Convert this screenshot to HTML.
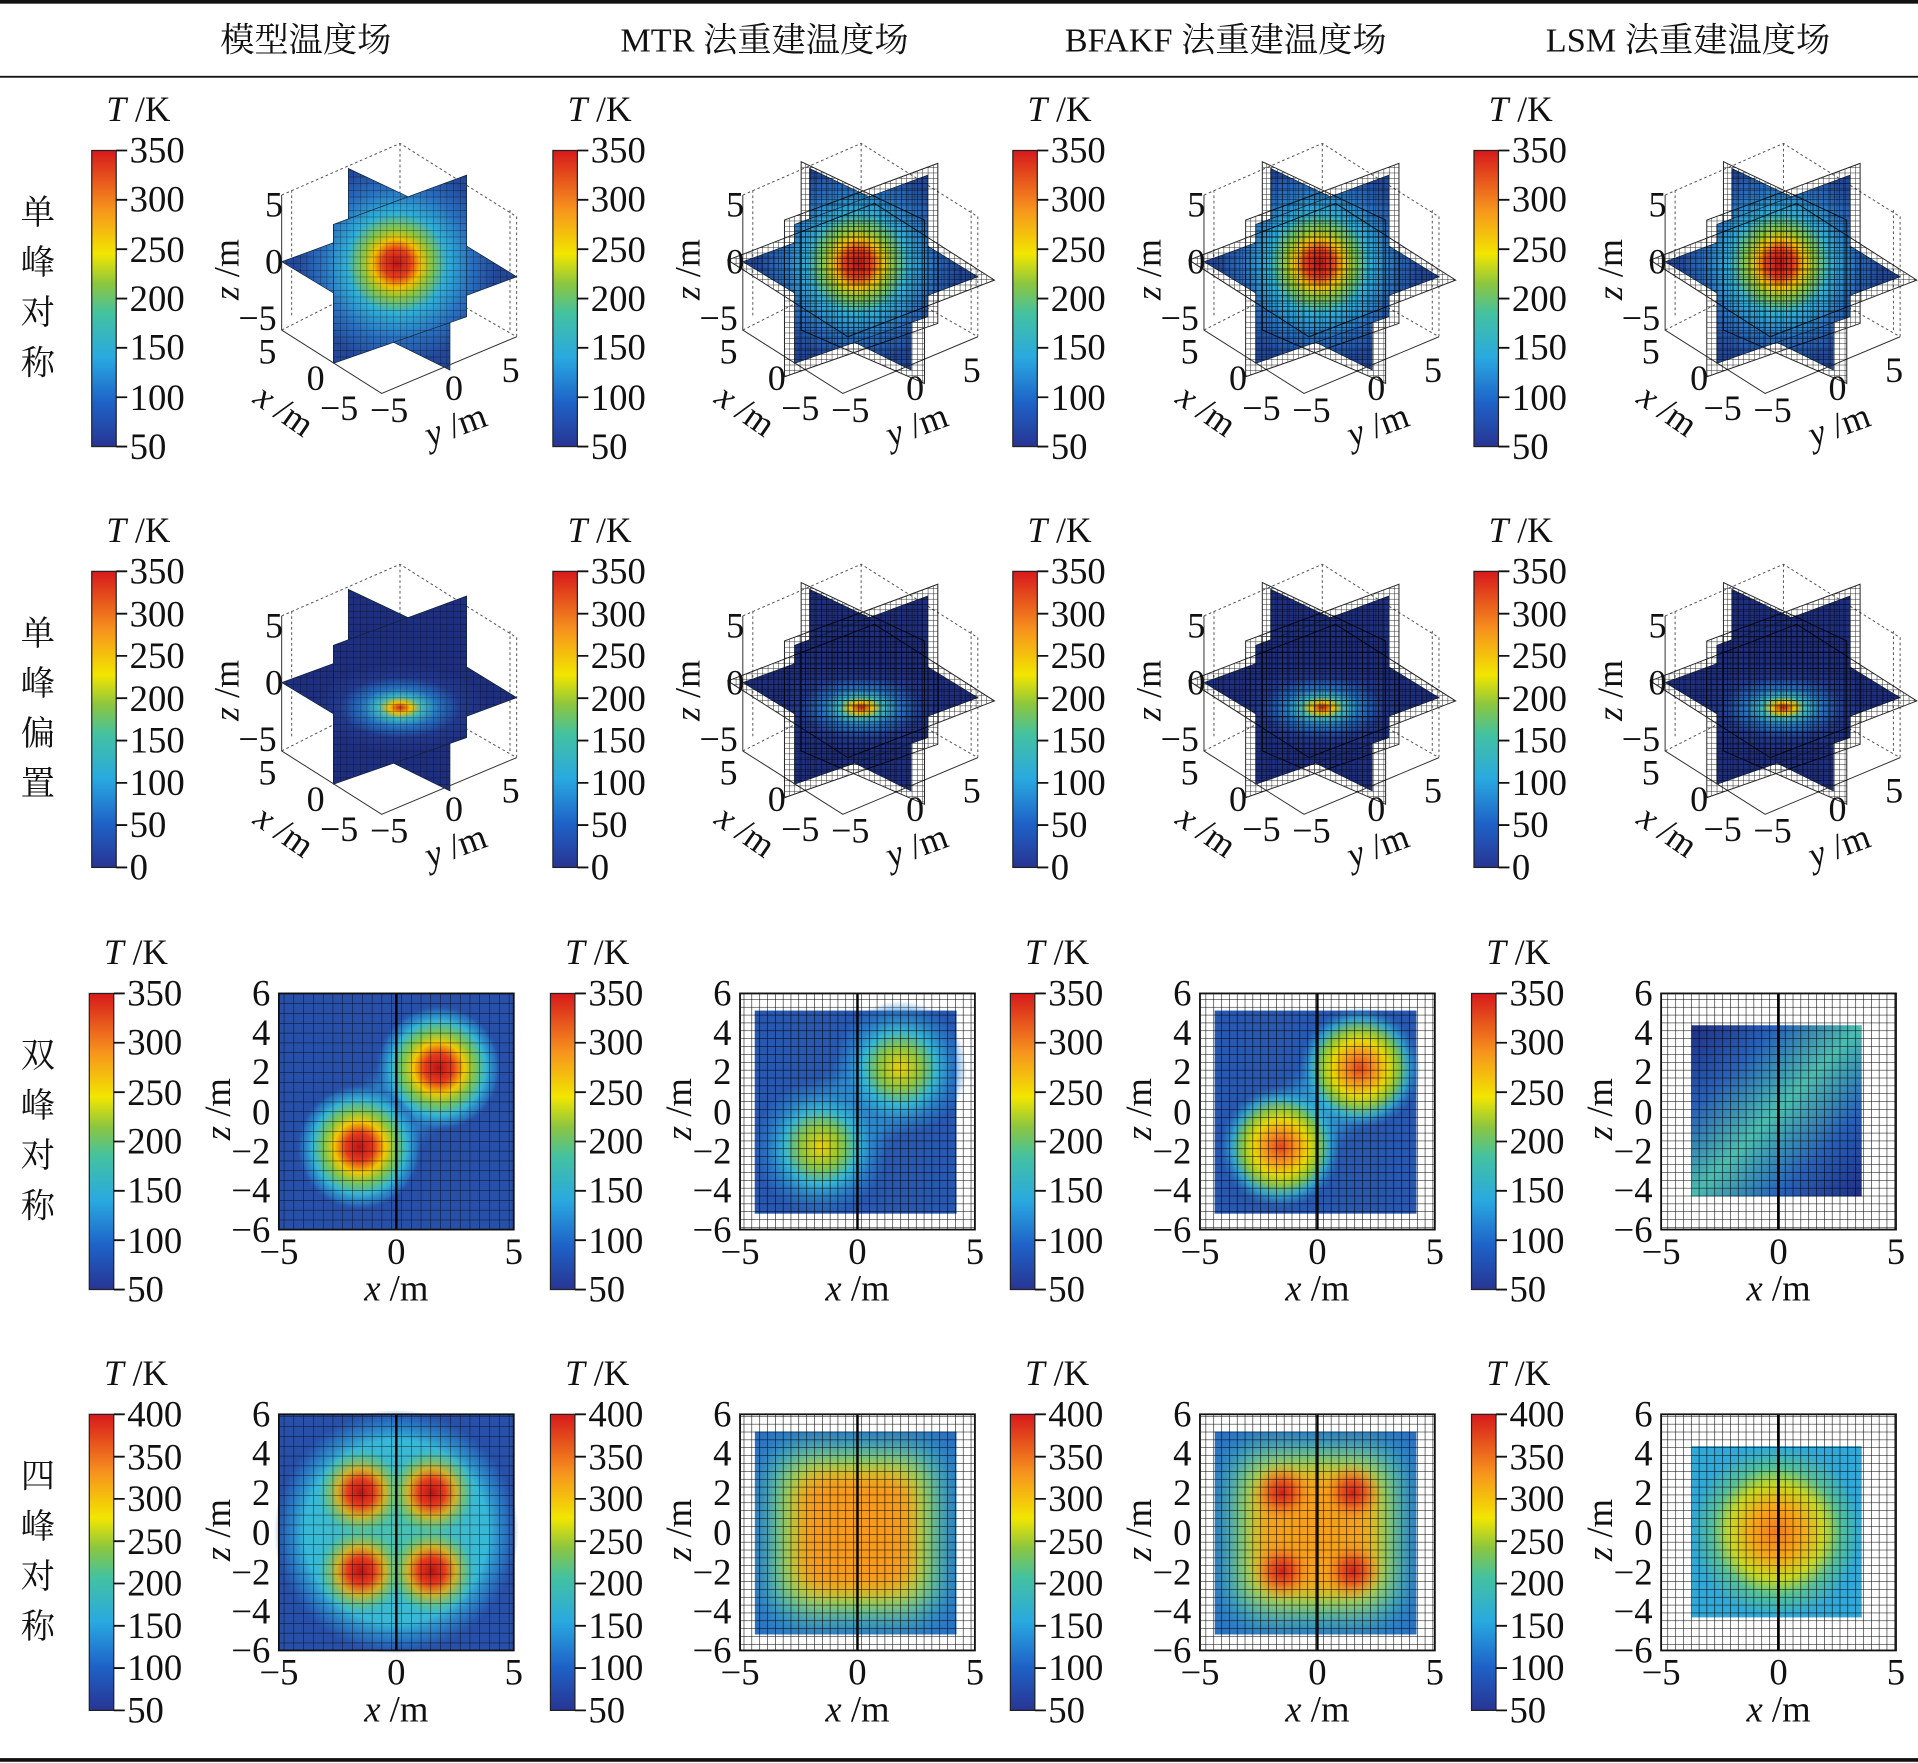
<!DOCTYPE html>
<html><head><meta charset="utf-8"><style>
html,body{margin:0;padding:0;background:#fff}
svg{display:block}
text{font-family:"Liberation Serif","Noto Serif CJK SC",serif;fill:#111}
.t{font-size:29px}
.h{font-size:28px}
.c{font-size:30px}
.z{font-size:108px}
.i{font-style:italic}
</style></head><body>
<svg xmlns="http://www.w3.org/2000/svg" width="1918" height="1763" viewBox="0 0 1568 1441" preserveAspectRatio="none">
<defs>
<filter id="bl" x="-20%" y="-20%" width="140%" height="140%"><feGaussianBlur stdDeviation="12"/></filter>
<filter id="bl2" x="-20%" y="-20%" width="140%" height="140%"><feGaussianBlur stdDeviation="7"/></filter>
<linearGradient id="jet" x1="0" y1="1" x2="0" y2="0">
<stop offset="0" stop-color="#283593"/><stop offset="0.15" stop-color="#1e63c8"/><stop offset="0.3" stop-color="#29a9e0"/><stop offset="0.45" stop-color="#44c2a0"/><stop offset="0.55" stop-color="#8cc63f"/><stop offset="0.65" stop-color="#f2e600"/><stop offset="0.8" stop-color="#f7941d"/><stop offset="1" stop-color="#d7191c"/>
</linearGradient>
<radialGradient id="hot1" gradientUnits="userSpaceOnUse" cx="590" cy="400" r="300">
<stop offset="0" stop-color="#b8141a"/><stop offset="0.14" stop-color="#e8401c"/><stop offset="0.24" stop-color="#f2c000"/><stop offset="0.34" stop-color="#8cc63f"/><stop offset="0.5" stop-color="#2fb0d8"/><stop offset="0.75" stop-color="#2a70c0"/><stop offset="1" stop-color="#23489a"/>
</radialGradient>
<radialGradient id="hot2" gradientUnits="userSpaceOnUse" cx="600" cy="470" r="260" gradientTransform="translate(600 470) scale(1 0.5) translate(-600 -470)">
<stop offset="0" stop-color="#d0201a"/><stop offset="0.12" stop-color="#f2c000"/><stop offset="0.25" stop-color="#3fb8c0"/><stop offset="0.45" stop-color="#2470c0"/><stop offset="0.7" stop-color="#233a8e"/><stop offset="1" stop-color="#1f2f80"/>
</radialGradient>
<radialGradient id="pk"><stop offset="0" stop-color="#b81418"/><stop offset="0.22" stop-color="#e83a1c"/><stop offset="0.4" stop-color="#f2c800"/><stop offset="0.56" stop-color="#7cc650"/><stop offset="0.74" stop-color="#35b5d5"/><stop offset="0.9" stop-color="#2a80c8" stop-opacity="0.7"/><stop offset="1" stop-color="#2850a8" stop-opacity="0"/></radialGradient>
<radialGradient id="pkC"><stop offset="0" stop-color="#b81418"/><stop offset="0.3" stop-color="#e83a1c"/><stop offset="0.55" stop-color="#f2b000" stop-opacity="0.8"/><stop offset="0.8" stop-color="#8cc63f" stop-opacity="0.4"/><stop offset="1" stop-color="#44c2a0" stop-opacity="0"/></radialGradient>
<radialGradient id="pkO"><stop offset="0" stop-color="#e8401c"/><stop offset="0.25" stop-color="#f7941d"/><stop offset="0.45" stop-color="#e8d800"/><stop offset="0.62" stop-color="#8cc63f"/><stop offset="0.8" stop-color="#35b5d5" stop-opacity="0.8"/><stop offset="1" stop-color="#2a80c8" stop-opacity="0"/></radialGradient>
<radialGradient id="pkY"><stop offset="0" stop-color="#f0d000"/><stop offset="0.3" stop-color="#8cc63f"/><stop offset="0.55" stop-color="#35b5d5"/><stop offset="0.8" stop-color="#2a80c8" stop-opacity="0.7"/><stop offset="1" stop-color="#2a80c8" stop-opacity="0"/></radialGradient>
<radialGradient id="pkR"><stop offset="0" stop-color="#d0201a"/><stop offset="0.4" stop-color="#e8401c" stop-opacity="0.8"/><stop offset="1" stop-color="#f7941d" stop-opacity="0"/></radialGradient>
<radialGradient id="cy"><stop offset="0" stop-color="#38b8d0"/><stop offset="0.6" stop-color="#2e90d0" stop-opacity="0.8"/><stop offset="1" stop-color="#2a70c0" stop-opacity="0"/></radialGradient>
<radialGradient id="cyG"><stop offset="0" stop-color="#4cc0b0"/><stop offset="0.75" stop-color="#38b8d8"/><stop offset="0.9" stop-color="#2a80c8" stop-opacity="0.7"/><stop offset="1" stop-color="#2a70c0" stop-opacity="0"/></radialGradient>
<radialGradient id="orC"><stop offset="0" stop-color="#f07a20"/><stop offset="0.3" stop-color="#f5a818"/><stop offset="0.55" stop-color="#c8d820"/><stop offset="0.75" stop-color="#55c098"/><stop offset="1" stop-color="#30a8d8"/></radialGradient>
<linearGradient id="diag" x1="0" y1="0" x2="1" y2="1"><stop offset="0" stop-color="#202f85"/><stop offset="0.25" stop-color="#2860b8"/><stop offset="0.5" stop-color="#4cbcb0"/><stop offset="0.75" stop-color="#2860b8"/><stop offset="1" stop-color="#202f85"/></linearGradient>
<pattern id="mesh" patternUnits="userSpaceOnUse" width="20" height="20"><path d="M0 0H20M0 0V20" stroke="#000" stroke-width="2.5" opacity="0.6" fill="none"/></pattern>
<pattern id="mesh2" patternUnits="userSpaceOnUse" width="16" height="16"><path d="M0 0H16M0 0V16" stroke="#000" stroke-width="3" fill="none"/></pattern>
<pattern id="g8" patternUnits="userSpaceOnUse" width="8" height="8.04"><path d="M0 0H8M0 0V8.04" stroke="#000" stroke-width="0.8" opacity="0.8" fill="none"/></pattern>
<pattern id="g6" patternUnits="userSpaceOnUse" width="6.4" height="6.43"><path d="M0 0H6.4M0 0V6.43" stroke="#000" stroke-width="0.9" fill="none"/></pattern>
<g id="cb"><rect x="0" y="0" width="20" height="242" fill="url(#jet)" stroke="#222" stroke-width="1"/></g>
<path id="tk7" d="M20 0h9M20 40.3h9M20 80.7h9M20 121h9M20 161.3h9M20 201.7h9M20 242h9" stroke="#111" stroke-width="1.5"/>
<path id="tk8" d="M20 0h9M20 34.6h9M20 69.1h9M20 103.7h9M20 138.3h9M20 172.9h9M20 207.4h9M20 242h9" stroke="#111" stroke-width="1.5"/>
<g id="ax3">
<path d="M245 195 L600 40 L950 260 L950 620 M600 40 L600 420 M245 600 L600 420 L950 620 M275 180 L275 560 M930 240 L930 600" stroke="#555" stroke-width="3" stroke-dasharray="8 8" fill="none"/>
</g>
<g id="p1">
<use href="#ax3"/>
<polygon points="445,115 750,260 750,720 445,570" fill="url(#hot1)"/><polygon points="445,115 750,260 750,720 445,570" fill="url(#mesh)" stroke="#123" stroke-width="2"/>
<polygon points="245,395 640,250 950,440 560,585" fill="url(#hot1)"/><polygon points="245,395 640,250 950,440 560,585" fill="url(#mesh)" stroke="#123" stroke-width="2"/>
<polygon points="400,283 800,135 800,560 400,700" fill="url(#hot1)"/><polygon points="400,283 800,135 800,560 400,700" fill="url(#mesh)" stroke="#123" stroke-width="2"/>
<path d="M245 195 L245 600 L545 790 L950 620" stroke="#333" stroke-width="3" fill="none"/>
</g>
<g id="p2">
<use href="#ax3"/>
<polygon points="445,115 750,260 750,720 445,570" fill="url(#hot2)"/><polygon points="445,115 750,260 750,720 445,570" fill="url(#mesh)" stroke="#123" stroke-width="2"/>
<polygon points="245,395 640,250 950,440 560,585" fill="url(#hot2)"/><polygon points="245,395 640,250 950,440 560,585" fill="url(#mesh)" stroke="#123" stroke-width="2"/>
<polygon points="400,283 800,135 800,560 400,700" fill="url(#hot2)"/><polygon points="400,283 800,135 800,560 400,700" fill="url(#mesh)" stroke="#123" stroke-width="2"/>
<path d="M245 195 L245 600 L545 790 L950 620" stroke="#333" stroke-width="3" fill="none"/>
</g>
<g id="rm" opacity="0.85">
<polygon points="420,95 790,270 790,760 420,600" fill="url(#mesh2)" stroke="#000" stroke-width="3"/>
<polygon points="200,390 640,220 1000,450 560,620" fill="url(#mesh2)" stroke="#000" stroke-width="3"/>
<polygon points="370,270 830,100 830,580 370,740" fill="url(#mesh2)" stroke="#000" stroke-width="3"/>
</g>
</defs>

<rect x="0" y="0" width="1568" height="3" fill="#111"/>
<rect x="0" y="62" width="1568" height="1.5" fill="#111"/>
<rect x="0" y="1437" width="1568" height="3" fill="#111"/>
<g class="h" text-anchor="middle">
<text x="250" y="42">模型温度场</text><text x="625" y="42">MTR 法重建温度场</text><text x="1002" y="42">BFAKF 法重建温度场</text><text x="1380" y="42">LSM 法重建温度场</text>
<text x="31" y="183">单</text><text x="31" y="224">峰</text><text x="31" y="265">对</text><text x="31" y="306">称</text>
<text x="31" y="527">单</text><text x="31" y="568">峰</text><text x="31" y="609">偏</text><text x="31" y="650">置</text>
<text x="31" y="872">双</text><text x="31" y="913">峰</text><text x="31" y="954">对</text><text x="31" y="995">称</text>
<text x="31" y="1216">四</text><text x="31" y="1257">峰</text><text x="31" y="1298">对</text><text x="31" y="1339">称</text>
</g>

<!-- colorbars -->
<g>
<g transform="translate(75,123)"><use href="#cb"/><use href="#tk7"/><text class="t" x="12" y="-24"><tspan class="i">T</tspan> /K</text><g class="c"><text x="31" y="10">350</text><text x="31" y="50">300</text><text x="31" y="91">250</text><text x="31" y="131">200</text><text x="31" y="171">150</text><text x="31" y="212">100</text><text x="31" y="252">50</text></g></g>
<g transform="translate(452,123)"><use href="#cb"/><use href="#tk7"/><text class="t" x="12" y="-24"><tspan class="i">T</tspan> /K</text><g class="c"><text x="31" y="10">350</text><text x="31" y="50">300</text><text x="31" y="91">250</text><text x="31" y="131">200</text><text x="31" y="171">150</text><text x="31" y="212">100</text><text x="31" y="252">50</text></g></g>
<g transform="translate(828,123)"><use href="#cb"/><use href="#tk7"/><text class="t" x="12" y="-24"><tspan class="i">T</tspan> /K</text><g class="c"><text x="31" y="10">350</text><text x="31" y="50">300</text><text x="31" y="91">250</text><text x="31" y="131">200</text><text x="31" y="171">150</text><text x="31" y="212">100</text><text x="31" y="252">50</text></g></g>
<g transform="translate(1205,123)"><use href="#cb"/><use href="#tk7"/><text class="t" x="12" y="-24"><tspan class="i">T</tspan> /K</text><g class="c"><text x="31" y="10">350</text><text x="31" y="50">300</text><text x="31" y="91">250</text><text x="31" y="131">200</text><text x="31" y="171">150</text><text x="31" y="212">100</text><text x="31" y="252">50</text></g></g>

<g transform="translate(75,467)"><use href="#cb"/><use href="#tk8"/><text class="t" x="12" y="-24"><tspan class="i">T</tspan> /K</text><g class="c"><text x="31" y="10">350</text><text x="31" y="45">300</text><text x="31" y="79">250</text><text x="31" y="114">200</text><text x="31" y="148">150</text><text x="31" y="183">100</text><text x="31" y="217">50</text><text x="31" y="252">0</text></g></g>
<g transform="translate(452,467)"><use href="#cb"/><use href="#tk8"/><text class="t" x="12" y="-24"><tspan class="i">T</tspan> /K</text><g class="c"><text x="31" y="10">350</text><text x="31" y="45">300</text><text x="31" y="79">250</text><text x="31" y="114">200</text><text x="31" y="148">150</text><text x="31" y="183">100</text><text x="31" y="217">50</text><text x="31" y="252">0</text></g></g>
<g transform="translate(828,467)"><use href="#cb"/><use href="#tk8"/><text class="t" x="12" y="-24"><tspan class="i">T</tspan> /K</text><g class="c"><text x="31" y="10">350</text><text x="31" y="45">300</text><text x="31" y="79">250</text><text x="31" y="114">200</text><text x="31" y="148">150</text><text x="31" y="183">100</text><text x="31" y="217">50</text><text x="31" y="252">0</text></g></g>
<g transform="translate(1205,467)"><use href="#cb"/><use href="#tk8"/><text class="t" x="12" y="-24"><tspan class="i">T</tspan> /K</text><g class="c"><text x="31" y="10">350</text><text x="31" y="45">300</text><text x="31" y="79">250</text><text x="31" y="114">200</text><text x="31" y="148">150</text><text x="31" y="183">100</text><text x="31" y="217">50</text><text x="31" y="252">0</text></g></g>

<g transform="translate(73,812)"><use href="#cb"/><use href="#tk7"/><text class="t" x="12" y="-24"><tspan class="i">T</tspan> /K</text><g class="c"><text x="31" y="10">350</text><text x="31" y="50">300</text><text x="31" y="91">250</text><text x="31" y="131">200</text><text x="31" y="171">150</text><text x="31" y="212">100</text><text x="31" y="252">50</text></g></g>
<g transform="translate(450,812)"><use href="#cb"/><use href="#tk7"/><text class="t" x="12" y="-24"><tspan class="i">T</tspan> /K</text><g class="c"><text x="31" y="10">350</text><text x="31" y="50">300</text><text x="31" y="91">250</text><text x="31" y="131">200</text><text x="31" y="171">150</text><text x="31" y="212">100</text><text x="31" y="252">50</text></g></g>
<g transform="translate(826,812)"><use href="#cb"/><use href="#tk7"/><text class="t" x="12" y="-24"><tspan class="i">T</tspan> /K</text><g class="c"><text x="31" y="10">350</text><text x="31" y="50">300</text><text x="31" y="91">250</text><text x="31" y="131">200</text><text x="31" y="171">150</text><text x="31" y="212">100</text><text x="31" y="252">50</text></g></g>
<g transform="translate(1203,812)"><use href="#cb"/><use href="#tk7"/><text class="t" x="12" y="-24"><tspan class="i">T</tspan> /K</text><g class="c"><text x="31" y="10">350</text><text x="31" y="50">300</text><text x="31" y="91">250</text><text x="31" y="131">200</text><text x="31" y="171">150</text><text x="31" y="212">100</text><text x="31" y="252">50</text></g></g>

<g transform="translate(73,1156)"><use href="#cb"/><use href="#tk8"/><text class="t" x="12" y="-24"><tspan class="i">T</tspan> /K</text><g class="c"><text x="31" y="10">400</text><text x="31" y="45">350</text><text x="31" y="79">300</text><text x="31" y="114">250</text><text x="31" y="148">200</text><text x="31" y="183">150</text><text x="31" y="217">100</text><text x="31" y="252">50</text></g></g>
<g transform="translate(450,1156)"><use href="#cb"/><use href="#tk8"/><text class="t" x="12" y="-24"><tspan class="i">T</tspan> /K</text><g class="c"><text x="31" y="10">400</text><text x="31" y="45">350</text><text x="31" y="79">300</text><text x="31" y="114">250</text><text x="31" y="148">200</text><text x="31" y="183">150</text><text x="31" y="217">100</text><text x="31" y="252">50</text></g></g>
<g transform="translate(826,1156)"><use href="#cb"/><use href="#tk8"/><text class="t" x="12" y="-24"><tspan class="i">T</tspan> /K</text><g class="c"><text x="31" y="10">400</text><text x="31" y="45">350</text><text x="31" y="79">300</text><text x="31" y="114">250</text><text x="31" y="148">200</text><text x="31" y="183">150</text><text x="31" y="217">100</text><text x="31" y="252">50</text></g></g>
<g transform="translate(1203,1156)"><use href="#cb"/><use href="#tk8"/><text class="t" x="12" y="-24"><tspan class="i">T</tspan> /K</text><g class="c"><text x="31" y="10">400</text><text x="31" y="45">350</text><text x="31" y="79">300</text><text x="31" y="114">250</text><text x="31" y="148">200</text><text x="31" y="183">150</text><text x="31" y="217">100</text><text x="31" y="252">50</text></g></g>
</g>

<!-- 3D plots -->
<g transform="translate(163.5,106.3) scale(0.2725)"><use href="#p1"/>
<g class="z"><text x="195" y="260">5</text><text x="195" y="430">0</text><text x="115" y="600">−5</text><text x="175" y="700">5</text><text x="320" y="780">0</text><text x="360" y="870">−5</text><text x="510" y="875">−5</text><text x="735" y="810">0</text><text x="905" y="755">5</text>
<text transform="translate(115,510) rotate(-90)"><tspan class="i">z</tspan> /m</text><text transform="translate(155,815) rotate(35)"><tspan class="i">x</tspan> /m</text><text transform="translate(690,950) rotate(-20)"><tspan class="i">y</tspan> /m</text></g></g>
<g transform="translate(540.5,106.3) scale(0.2725)"><use href="#p1"/><use href="#rm"/>
<g class="z"><text x="195" y="260">5</text><text x="195" y="430">0</text><text x="115" y="600">−5</text><text x="175" y="700">5</text><text x="320" y="780">0</text><text x="360" y="870">−5</text><text x="510" y="875">−5</text><text x="735" y="810">0</text><text x="905" y="755">5</text>
<text transform="translate(115,510) rotate(-90)"><tspan class="i">z</tspan> /m</text><text transform="translate(155,815) rotate(35)"><tspan class="i">x</tspan> /m</text><text transform="translate(690,950) rotate(-20)"><tspan class="i">y</tspan> /m</text></g></g>
<g transform="translate(917.5,106.3) scale(0.2725)"><use href="#p1"/><use href="#rm"/>
<g class="z"><text x="195" y="260">5</text><text x="195" y="430">0</text><text x="115" y="600">−5</text><text x="175" y="700">5</text><text x="320" y="780">0</text><text x="360" y="870">−5</text><text x="510" y="875">−5</text><text x="735" y="810">0</text><text x="905" y="755">5</text>
<text transform="translate(115,510) rotate(-90)"><tspan class="i">z</tspan> /m</text><text transform="translate(155,815) rotate(35)"><tspan class="i">x</tspan> /m</text><text transform="translate(690,950) rotate(-20)"><tspan class="i">y</tspan> /m</text></g></g>
<g transform="translate(1294.5,106.3) scale(0.2725)"><use href="#p1"/><use href="#rm"/>
<g class="z"><text x="195" y="260">5</text><text x="195" y="430">0</text><text x="115" y="600">−5</text><text x="175" y="700">5</text><text x="320" y="780">0</text><text x="360" y="870">−5</text><text x="510" y="875">−5</text><text x="735" y="810">0</text><text x="905" y="755">5</text>
<text transform="translate(115,510) rotate(-90)"><tspan class="i">z</tspan> /m</text><text transform="translate(155,815) rotate(35)"><tspan class="i">x</tspan> /m</text><text transform="translate(690,950) rotate(-20)"><tspan class="i">y</tspan> /m</text></g></g>

<g transform="translate(163.5,450.3) scale(0.2725)"><use href="#p2"/>
<g class="z"><text x="195" y="260">5</text><text x="195" y="430">0</text><text x="115" y="600">−5</text><text x="175" y="700">5</text><text x="320" y="780">0</text><text x="360" y="870">−5</text><text x="510" y="875">−5</text><text x="735" y="810">0</text><text x="905" y="755">5</text>
<text transform="translate(115,510) rotate(-90)"><tspan class="i">z</tspan> /m</text><text transform="translate(155,815) rotate(35)"><tspan class="i">x</tspan> /m</text><text transform="translate(690,950) rotate(-20)"><tspan class="i">y</tspan> /m</text></g></g>
<g transform="translate(540.5,450.3) scale(0.2725)"><use href="#p2"/><use href="#rm"/>
<g class="z"><text x="195" y="260">5</text><text x="195" y="430">0</text><text x="115" y="600">−5</text><text x="175" y="700">5</text><text x="320" y="780">0</text><text x="360" y="870">−5</text><text x="510" y="875">−5</text><text x="735" y="810">0</text><text x="905" y="755">5</text>
<text transform="translate(115,510) rotate(-90)"><tspan class="i">z</tspan> /m</text><text transform="translate(155,815) rotate(35)"><tspan class="i">x</tspan> /m</text><text transform="translate(690,950) rotate(-20)"><tspan class="i">y</tspan> /m</text></g></g>
<g transform="translate(917.5,450.3) scale(0.2725)"><use href="#p2"/><use href="#rm"/>
<g class="z"><text x="195" y="260">5</text><text x="195" y="430">0</text><text x="115" y="600">−5</text><text x="175" y="700">5</text><text x="320" y="780">0</text><text x="360" y="870">−5</text><text x="510" y="875">−5</text><text x="735" y="810">0</text><text x="905" y="755">5</text>
<text transform="translate(115,510) rotate(-90)"><tspan class="i">z</tspan> /m</text><text transform="translate(155,815) rotate(35)"><tspan class="i">x</tspan> /m</text><text transform="translate(690,950) rotate(-20)"><tspan class="i">y</tspan> /m</text></g></g>
<g transform="translate(1294.5,450.3) scale(0.2725)"><use href="#p2"/><use href="#rm"/>
<g class="z"><text x="195" y="260">5</text><text x="195" y="430">0</text><text x="115" y="600">−5</text><text x="175" y="700">5</text><text x="320" y="780">0</text><text x="360" y="870">−5</text><text x="510" y="875">−5</text><text x="735" y="810">0</text><text x="905" y="755">5</text>
<text transform="translate(115,510) rotate(-90)"><tspan class="i">z</tspan> /m</text><text transform="translate(155,815) rotate(35)"><tspan class="i">x</tspan> /m</text><text transform="translate(690,950) rotate(-20)"><tspan class="i">y</tspan> /m</text></g></g>

<!-- Row 3 heatmaps -->
<g>
<rect x="228" y="812" width="192" height="193" fill="#2850a8"/>
<ellipse cx="326" cy="905" rx="85" ry="38" fill="url(#cy)" transform="rotate(-45 326 905)"/>
<circle cx="358.6" cy="873" r="52" fill="url(#pk)"/>
<circle cx="294" cy="937.5" r="52" fill="url(#pk)"/>
<rect x="228" y="812" width="192" height="193" fill="url(#g8)"/>
</g>
<g>
<rect x="605" y="812" width="192" height="193" fill="url(#g6)"/>
<rect x="617" y="826" width="165" height="166" fill="#2858b0"/>
<ellipse cx="703" cy="905" rx="95" ry="42" fill="url(#cy)" transform="rotate(-45 703 905)"/>
<circle cx="735.6" cy="873" r="55" fill="url(#pkY)"/>
<circle cx="671" cy="937.5" r="55" fill="url(#pkY)"/>
<rect x="617" y="826" width="165" height="166" fill="url(#g6)"/>
</g>
<g>
<rect x="981" y="812" width="192" height="193" fill="url(#g6)"/>
<rect x="993" y="826" width="165" height="166" fill="#2858b0"/>
<ellipse cx="1079" cy="905" rx="90" ry="38" fill="url(#cy)" transform="rotate(-45 1079 905)"/>
<circle cx="1111.6" cy="873" r="50" fill="url(#pkO)"/>
<circle cx="1047" cy="937.5" r="50" fill="url(#pkO)"/>
<rect x="993" y="826" width="165" height="166" fill="url(#g6)"/>
</g>
<g>
<rect x="1358" y="812" width="192" height="193" fill="url(#g6)"/>
<rect x="1383" y="838" width="139" height="140" fill="url(#diag)"/>
<rect x="1383" y="838" width="139" height="140" fill="url(#g6)"/>
</g>

<!-- Row 4 heatmaps -->
<g>
<rect x="228" y="1156" width="192" height="193" fill="#2850a8"/>
<circle cx="324" cy="1252" r="100" fill="url(#cyG)"/>
<circle cx="295" cy="1220" r="36" fill="url(#pkC)"/>
<circle cx="353" cy="1220" r="36" fill="url(#pkC)"/>
<circle cx="295" cy="1284" r="36" fill="url(#pkC)"/>
<circle cx="353" cy="1284" r="36" fill="url(#pkC)"/>
<rect x="228" y="1156" width="192" height="193" fill="url(#g8)"/>
</g>
<g>
<rect x="605" y="1156" width="192" height="193" fill="url(#g6)"/>
<svg x="617" y="1170" width="165" height="166" viewBox="0 0 165 166" overflow="hidden">
<rect width="165" height="166" fill="#2a70c0"/>
<rect x="10" y="10" width="145" height="146" rx="25" fill="#35b5d5" filter="url(#bl)"/>
<rect x="22" y="22" width="121" height="122" rx="25" fill="#c8d820" filter="url(#bl)"/>
<rect x="35" y="35" width="95" height="96" rx="20" fill="#f59a1a" filter="url(#bl2)"/>
</svg>
<rect x="617" y="1170" width="165" height="166" fill="url(#g6)"/>
</g>
<g>
<rect x="981" y="1156" width="192" height="193" fill="url(#g6)"/>
<svg x="993" y="1170" width="165" height="166" viewBox="0 0 165 166" overflow="hidden">
<rect width="165" height="166" fill="#2a70c0"/>
<rect x="10" y="10" width="145" height="146" rx="25" fill="#35b5d5" filter="url(#bl)"/>
<rect x="22" y="22" width="121" height="122" rx="25" fill="#c8d820" filter="url(#bl)"/>
<rect x="35" y="35" width="95" height="96" rx="20" fill="#f5a01a" filter="url(#bl2)"/>
<circle cx="55" cy="50" r="24" fill="url(#pkR)"/><circle cx="113" cy="50" r="24" fill="url(#pkR)"/>
<circle cx="55" cy="114" r="24" fill="url(#pkR)"/><circle cx="113" cy="114" r="24" fill="url(#pkR)"/>
</svg>
<rect x="993" y="1170" width="165" height="166" fill="url(#g6)"/>
</g>
<g>
<rect x="1358" y="1156" width="192" height="193" fill="url(#g6)"/>
<rect x="1383" y="1182" width="139" height="140" fill="url(#orC)"/>
<rect x="1383" y="1182" width="139" height="140" fill="url(#g6)"/>
</g>

<g stroke="#000" stroke-width="2">
<line x1="324" y1="812" x2="324" y2="1005"/><line x1="701" y1="812" x2="701" y2="1005"/><line x1="1077" y1="812" x2="1077" y2="1005"/><line x1="1454" y1="812" x2="1454" y2="1005"/>
<line x1="324" y1="1156" x2="324" y2="1349"/><line x1="701" y1="1156" x2="701" y2="1349"/><line x1="1077" y1="1156" x2="1077" y2="1349"/><line x1="1454" y1="1156" x2="1454" y2="1349"/>
</g>
<g fill="none" stroke="#111" stroke-width="1.5">
<rect x="228" y="812" width="192" height="193"/><rect x="605" y="812" width="192" height="193"/><rect x="981" y="812" width="192" height="193"/><rect x="1358" y="812" width="192" height="193"/>
<rect x="228" y="1156" width="192" height="193"/><rect x="605" y="1156" width="192" height="193"/><rect x="981" y="1156" width="192" height="193"/><rect x="1358" y="1156" width="192" height="193"/>
</g>

<g class="c">
<g transform="translate(228,812)"><g text-anchor="end"><text x="-7" y="10">6</text><text x="-7" y="42">4</text><text x="-7" y="74">2</text><text x="-7" y="107">0</text><text x="-7" y="139">−2</text><text x="-7" y="171">−4</text><text x="-7" y="203">−6</text></g><g text-anchor="middle"><text x="0" y="221">−5</text><text x="96" y="221">0</text><text x="192" y="221">5</text><text x="96" y="251"><tspan class="i">x</tspan> /m</text></g><text transform="translate(-40,120) rotate(-90)"><tspan class="i">z</tspan> /m</text></g>
<g transform="translate(605,812)"><g text-anchor="end"><text x="-7" y="10">6</text><text x="-7" y="42">4</text><text x="-7" y="74">2</text><text x="-7" y="107">0</text><text x="-7" y="139">−2</text><text x="-7" y="171">−4</text><text x="-7" y="203">−6</text></g><g text-anchor="middle"><text x="0" y="221">−5</text><text x="96" y="221">0</text><text x="192" y="221">5</text><text x="96" y="251"><tspan class="i">x</tspan> /m</text></g><text transform="translate(-40,120) rotate(-90)"><tspan class="i">z</tspan> /m</text></g>
<g transform="translate(981,812)"><g text-anchor="end"><text x="-7" y="10">6</text><text x="-7" y="42">4</text><text x="-7" y="74">2</text><text x="-7" y="107">0</text><text x="-7" y="139">−2</text><text x="-7" y="171">−4</text><text x="-7" y="203">−6</text></g><g text-anchor="middle"><text x="0" y="221">−5</text><text x="96" y="221">0</text><text x="192" y="221">5</text><text x="96" y="251"><tspan class="i">x</tspan> /m</text></g><text transform="translate(-40,120) rotate(-90)"><tspan class="i">z</tspan> /m</text></g>
<g transform="translate(1358,812)"><g text-anchor="end"><text x="-7" y="10">6</text><text x="-7" y="42">4</text><text x="-7" y="74">2</text><text x="-7" y="107">0</text><text x="-7" y="139">−2</text><text x="-7" y="171">−4</text><text x="-7" y="203">−6</text></g><g text-anchor="middle"><text x="0" y="221">−5</text><text x="96" y="221">0</text><text x="192" y="221">5</text><text x="96" y="251"><tspan class="i">x</tspan> /m</text></g><text transform="translate(-40,120) rotate(-90)"><tspan class="i">z</tspan> /m</text></g>
<g transform="translate(228,1156)"><g text-anchor="end"><text x="-7" y="10">6</text><text x="-7" y="42">4</text><text x="-7" y="74">2</text><text x="-7" y="107">0</text><text x="-7" y="139">−2</text><text x="-7" y="171">−4</text><text x="-7" y="203">−6</text></g><g text-anchor="middle"><text x="0" y="221">−5</text><text x="96" y="221">0</text><text x="192" y="221">5</text><text x="96" y="251"><tspan class="i">x</tspan> /m</text></g><text transform="translate(-40,120) rotate(-90)"><tspan class="i">z</tspan> /m</text></g>
<g transform="translate(605,1156)"><g text-anchor="end"><text x="-7" y="10">6</text><text x="-7" y="42">4</text><text x="-7" y="74">2</text><text x="-7" y="107">0</text><text x="-7" y="139">−2</text><text x="-7" y="171">−4</text><text x="-7" y="203">−6</text></g><g text-anchor="middle"><text x="0" y="221">−5</text><text x="96" y="221">0</text><text x="192" y="221">5</text><text x="96" y="251"><tspan class="i">x</tspan> /m</text></g><text transform="translate(-40,120) rotate(-90)"><tspan class="i">z</tspan> /m</text></g>
<g transform="translate(981,1156)"><g text-anchor="end"><text x="-7" y="10">6</text><text x="-7" y="42">4</text><text x="-7" y="74">2</text><text x="-7" y="107">0</text><text x="-7" y="139">−2</text><text x="-7" y="171">−4</text><text x="-7" y="203">−6</text></g><g text-anchor="middle"><text x="0" y="221">−5</text><text x="96" y="221">0</text><text x="192" y="221">5</text><text x="96" y="251"><tspan class="i">x</tspan> /m</text></g><text transform="translate(-40,120) rotate(-90)"><tspan class="i">z</tspan> /m</text></g>
<g transform="translate(1358,1156)"><g text-anchor="end"><text x="-7" y="10">6</text><text x="-7" y="42">4</text><text x="-7" y="74">2</text><text x="-7" y="107">0</text><text x="-7" y="139">−2</text><text x="-7" y="171">−4</text><text x="-7" y="203">−6</text></g><g text-anchor="middle"><text x="0" y="221">−5</text><text x="96" y="221">0</text><text x="192" y="221">5</text><text x="96" y="251"><tspan class="i">x</tspan> /m</text></g><text transform="translate(-40,120) rotate(-90)"><tspan class="i">z</tspan> /m</text></g>
</g>
</svg>
</body></html>
